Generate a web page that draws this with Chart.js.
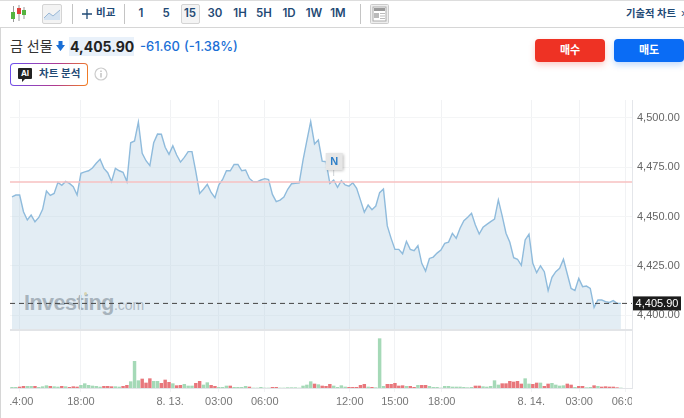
<!DOCTYPE html>
<html lang="ko">
<head>
<meta charset="utf-8">
<title>금 선물</title>
<script src="https://cdn.jsdelivr.net/npm/chart.js@4"></script>
<style>
    html, body { margin: 0; padding: 0; background: #fff; }
    body { width: 684px; height: 418px; position: relative; overflow: hidden; font-family: Inter, "Noto Sans CJK KR", sans-serif; color: #333; }
    .abs { position: absolute; white-space: nowrap; }
    .topline { left: 0; top: 0; width: 684px; height: 1px; background: #ddd; }
    .toolline { left: 0; top: 27px; width: 684px; height: 1px; background: #d6d6d6; }
    .leftline { left: 0; top: 28px; width: 1px; height: 390px; background: #d6d6d6; }
    .sep { top: 4px; width: 1px; height: 20px; background: #c4c4c4; }
    .tf { top: 6px; font-size: 11.5px; font-weight: 600; color: #1f4a75; transform: translateX(-50%); line-height: 15px; }
    .tfbox { left: 181px; top: 4px; width: 17px; height: 18px; background: #f4f4f4; border: 1px solid #d4d4d4; border-radius: 2px; }
    .btn { top: 39px; width: 70px; height: 23px; border-radius: 4px; color: #fff; font-size: 11px; font-weight: 700; text-align: center; line-height: 23px; }
    .ai { left: 10px; top: 63px; width: 78px; height: 23px; border-radius: 4px; padding: 1px; box-sizing: border-box; background: linear-gradient(100deg, #6a4ff0, #b03a90 60%, #f5801e); }
    .ai div { background: #fff; height: 100%; border-radius: 3px; }
    .mark { left: 24px; top: 288px; font-family: "Liberation Sans", sans-serif; font-size: 21.5px; font-weight: 700; color: #9b9ea2; letter-spacing: -0.5px; line-height: 30px; }
    .mark span { font-size: 14px; font-weight: 400; letter-spacing: 0; color: #a6a9ad; }
    canvas { position: absolute; left: 10px; top: 100px; }
</style>
</head>
<body>
<div class="abs topline"></div>
<div class="abs toolline"></div>
<div class="abs leftline"></div>

<svg class="abs" style="left:10px;top:5px" width="17" height="18">
    <path d="M3.5 1v16M9 0v16M14 2v12" stroke="#999" stroke-width="1"/>
    <rect x="1" y="7" width="4" height="7" fill="#55b33f"/><rect x="7" y="3" width="4" height="6" fill="#e0403a"/><rect x="12" y="5" width="4" height="5" fill="#55b33f"/>
</svg>
<div class="abs" style="left:42px;top:4px;width:18px;height:18px;background:#f3f3f3;border:1px solid #d4d4d4;border-radius:2px"></div>
<svg class="abs" style="left:43px;top:5px" width="18" height="18">
    <path d="M1 13L6 8l4 3 7-6v10H1z" fill="#d5e3f1"/><path d="M1 13L6 8l4 3 7-6" fill="none" stroke="#9ab8d6" stroke-width="1"/>
</svg>
<div class="abs sep" style="left:72px"></div>
<svg class="abs" style="left:81px;top:8px" width="12" height="12"><path d="M6 1v10M1 6h10" stroke="#1f4a75" stroke-width="1.3"/></svg>
<div class="abs" style="left:96px;top:5px;font-size:10.5px;font-weight:600;color:#1f4a75;line-height:16px">비교</div>
<div class="abs sep" style="left:124px"></div>
<div class="abs tfbox"></div>
<div class="abs tf" style="left:141px">1</div>
<div class="abs tf" style="left:166px">5</div>
<div class="abs tf" style="left:190px">15</div>
<div class="abs tf" style="left:215px">30</div>
<div class="abs tf" style="left:240px">1H</div>
<div class="abs tf" style="left:264px">5H</div>
<div class="abs tf" style="left:289px">1D</div>
<div class="abs tf" style="left:314px">1W</div>
<div class="abs tf" style="left:338px">1M</div>
<div class="abs sep" style="left:360px"></div>
<svg class="abs" style="left:370px;top:4px" width="19" height="20">
    <rect x="0.5" y="0.5" width="18" height="19" rx="1" fill="#eee" stroke="#ccc"/>
    <rect x="3" y="3" width="13" height="14" fill="#fff" stroke="#aaa"/><rect x="4" y="4" width="11" height="3" fill="#999"/><rect x="4" y="9" width="5" height="5" fill="#bbb"/><path d="M10 9.5h5M10 12h5M10 14.5h5" stroke="#bbb"/>
</svg>
<div class="abs" style="left:626px;top:5px;font-size:10.3px;font-weight:600;color:#1f4a75;line-height:16px">기술적 차트</div>
<div class="abs" style="left:681px;top:5px;font-size:11px;color:#1f4a75;line-height:16px">›</div>

<div class="abs" style="left:10px;top:36px;font-size:14px;color:#333;line-height:20px">금 선물</div>
<svg class="abs" style="left:56px;top:41px" width="9" height="10"><path d="M2.5 0h4v4H9L4.5 10 0 4h2.5z" fill="#1a6fd6"/></svg>
<div class="abs" style="left:69px;top:37px;width:65px;height:19px;background:#e9f1fa"></div>
<div class="abs" style="left:70px;top:37px;font-size:14px;font-weight:700;color:#222;line-height:19px">4,405.90</div>
<div class="abs" style="left:140px;top:37px;font-size:13px;font-weight:500;color:#1a6fd6;line-height:19px">-61.60</div>
<div class="abs" style="left:184px;top:37px;font-size:13px;font-weight:500;color:#1a6fd6;line-height:19px">(-1.38%)</div>

<div class="abs ai"><div></div></div>
<svg class="abs" style="left:18px;top:68px" width="14" height="14"><path d="M1 0h12a1 1 0 0 1 1 1v9a1 1 0 0 1-1 1H7l-3 3v-3H1a1 1 0 0 1-1-1V1a1 1 0 0 1 1-1z" fill="#222"/></svg>
<div class="abs" style="left:18px;top:68px;width:14px;height:11px;color:#fff;font-size:8px;font-weight:700;text-align:center;line-height:11px">AI</div>
<div class="abs" style="left:39px;top:66px;font-size:10.5px;font-weight:600;color:#1f4a75;line-height:16px">차트 분석</div>
<svg class="abs" style="left:94px;top:67px" width="14" height="14"><circle cx="7" cy="7" r="6" fill="none" stroke="#ccc" stroke-width="1.2"/><path d="M7 6v4.5M7 3.5v1.5" stroke="#bbb" stroke-width="1.3"/></svg>

<div class="abs btn" style="left:535px;background:#ee3224;box-shadow:0 3px 6px rgba(238,50,36,.25)">매수</div>
<div class="abs btn" style="left:614px;background:#0a6cf5;box-shadow:0 3px 6px rgba(10,108,245,.25)">매도</div>

<div class="abs mark">Investing<span>.com</span></div>
<div class="abs" style="left:84px;top:292px;width:3px;height:3px;border-radius:50%;background:#f0d890"></div>
<canvas id="goldChart" width="674" height="318"></canvas>

<script>
const priceValues = [
    4460.0, 4460.9, 4460.9, 4452.4, 4448.2, 4450.7, 4447.3, 4449.5, 4453.6, 4462.9,
    4460.7, 4461.7, 4467.3, 4465.8, 4467.8, 4466.8, 4465.1, 4460.9, 4471.9, 4472.6,
    4473.2, 4474.6, 4477.0, 4479.0, 4474.4, 4472.2, 4467.7, 4474.4, 4473.2, 4472.4,
    4467.7, 4487.4, 4488.3, 4497.9, 4482.0, 4478.3, 4475.8, 4487.4, 4491.8, 4491.7,
    4485.1, 4481.5, 4485.9, 4481.2, 4477.6, 4480.0, 4482.9, 4482.9, 4472.7, 4461.7,
    4463.8, 4466.3, 4462.2, 4459.5, 4466.0, 4468.8, 4473.2, 4473.2, 4476.4, 4476.4,
    4473.2, 4473.6, 4469.3, 4467.6, 4467.6, 4468.5, 4469.2, 4468.7, 4461.2, 4457.5,
    4458.3, 4459.9, 4463.8, 4466.6, 4466.8, 4467.0, 4478.6, 4488.5, 4498.1, 4486.8,
    4488.8, 4478.1, 4477.8, 4466.8, 4468.5, 4464.8, 4468.2, 4466.0, 4465.4, 4467.1,
    4464.3, 4458.3, 4452.2, 4455.8, 4453.4, 4455.3, 4462.1, 4463.9, 4445.2, 4438.9,
    4433.3, 4433.3, 4431.1, 4437.4, 4433.3, 4432.6, 4435.2, 4426.2, 4422.3, 4428.7,
    4429.4, 4431.4, 4433.0, 4436.4, 4437.0, 4441.4, 4438.9, 4444.0, 4447.9, 4449.6,
    4451.6, 4445.7, 4441.1, 4444.5, 4446.0, 4447.4, 4448.7, 4458.4, 4450.3, 4441.5,
    4436.9, 4429.1, 4428.3, 4425.2, 4438.1, 4441.0, 4426.2, 4421.5, 4425.0, 4422.0,
    4412.4, 4419.1, 4422.0, 4423.7, 4428.3, 4420.8, 4413.5, 4412.4, 4418.6, 4414.4,
    4414.7, 4413.5, 4403.9, 4407.6, 4407.6, 4406.8, 4406.4, 4407.3, 4405.9, 4405.9
];
const volumeValues = [
    2, 2, 3, 5, 5, 5, 5, 2, 4, 7, 5, 4, 3, 5, 4, 2, 4, 3, 8, 13,
    8, 6, 5, 3, 5, 5, 4, 4, 3, 5, 8, 19, 80, 22, 27, 15, 28, 20, 20, 14,
    24, 17, 13, 7, 8, 11, 6, 6, 14, 20, 9, 16, 8, 5, 2, 2, 6, 6, 2, 2,
    2, 5, 3, 0, 0, 2, 0, 0, 2, 2, 0, 0, 1, 1, 1, 0, 6, 9, 19, 12,
    10, 6, 5, 11, 6, 2, 7, 3, 2, 2, 2, 8, 11, 3, 2, 1, 148, 5, 11, 11,
    14, 6, 7, 5, 5, 2, 8, 8, 8, 5, 2, 2, 0, 5, 5, 3, 3, 3, 2, 1,
    2, 6, 6, 4, 3, 5, 22, 9, 13, 13, 20, 18, 20, 12, 28, 12, 11, 15, 15, 5,
    12, 14, 9, 6, 7, 12, 9, 2, 5, 5, 1, 2, 7, 5, 3, 4, 3, 3, 1, 0
];
// u = up bar, d = down bar, one per volume value
const volumeSides = [
    'uudduuduuu', 'duududdduu', 'uuuuddduud', 'duuuddduud',
    'ddudduuudd', 'uudduuuduu', 'uuduuuuudd', 'uuuuuuuuud',
    'uddduuuudd', 'ddduduuudd', 'dddudduddu', 'uuuuuuuuuu',
    'udduuuuudd', 'dddduuddud', 'duuuuddudd', 'uududddddu'
].join('');
const priceTicks = [4400, 4425, 4450, 4475, 4500];
const timeTicks = [2, 18, 41.3, 54, 66, 88.2, 100, 112.2, 135.6, 148.1, 160.2];
const timeLabels = ['14:00', '18:00', '8. 13.', '03:00', '06:00', '12:00', '15:00', '18:00', '8. 14.', '03:00', '06:00'];
const lastPrice = 4405.9;
const prevClose = 4467.5;
const newsIndex = 84;

const tickFont = { family: '"Liberation Sans", sans-serif', size: 11 };

// the plot has to fill the canvas, labels may run off its edge
function noPadding(s) {
    s.paddingLeft = s.paddingRight = s.paddingTop = s.paddingBottom = 0;
}

const overlays = {
    id: 'overlays',
    afterDatasetsDraw(chart) {
        const ctx = chart.ctx;
        const area = chart.chartArea;
        const y = chart.scales.y;
        const yVol = chart.scales.yVol;
        const x = chart.scales.x;

        // pane divider and volume baseline
        ctx.save();
        ctx.fillStyle = '#e2e4e7';
        ctx.fillRect(0, yVol.top - 1, area.right, 2);
        ctx.fillRect(0, yVol.bottom, area.right, 1);

        ctx.strokeStyle = '#f7c0c0';
        ctx.lineWidth = 1.5;
        ctx.beginPath();
        ctx.moveTo(0, y.getPixelForValue(prevClose));
        ctx.lineTo(area.right, y.getPixelForValue(prevClose));
        ctx.stroke();

        ctx.strokeStyle = '#444';
        ctx.lineWidth = 1;
        ctx.setLineDash([5, 4]);
        ctx.beginPath();
        ctx.moveTo(0, y.getPixelForValue(lastPrice));
        ctx.lineTo(area.right, y.getPixelForValue(lastPrice));
        ctx.stroke();
        ctx.setLineDash([]);

        // news flag
        const nx = x.getPixelForValue(newsIndex);
        const ny = y.getPixelForValue(priceValues[newsIndex]);
        ctx.strokeStyle = '#cfd3d6';
        ctx.beginPath();
        ctx.moveTo(nx, ny - 22);
        ctx.lineTo(nx, ny - 4);
        ctx.stroke();
        ctx.shadowColor = 'rgba(0,0,0,.3)';
        ctx.shadowBlur = 3;
        ctx.shadowOffsetX = 1;
        ctx.shadowOffsetY = 1;
        ctx.fillStyle = '#e6e6e6';
        ctx.fillRect(nx - 8, ny - 27, 17, 17);
        ctx.shadowColor = 'transparent';
        ctx.fillStyle = '#2f7fc8';
        ctx.font = 'bold 11px "Liberation Sans", sans-serif';
        ctx.textAlign = 'center';
        ctx.textBaseline = 'middle';
        ctx.fillText('N', nx + 0.5, ny - 18);

        // last price tag on the axis
        const tagY = y.getPixelForValue(lastPrice);
        ctx.fillStyle = '#1c1c1c';
        ctx.fillRect(area.right + 1, tagY - 7, 48, 14);
        ctx.fillStyle = '#fff';
        ctx.font = '11px "Liberation Sans", sans-serif';
        ctx.fillText(lastPrice.toLocaleString('en-US', { minimumFractionDigits: 2 }), area.right + 25, tagY + 0.5);

        // last time label runs off the plot, as on the site
        ctx.clearRect(area.right, yVol.bottom + 1, chart.width - area.right, chart.height - yVol.bottom);
        ctx.restore();
    }
};

new Chart(document.getElementById('goldChart').getContext('2d'), {
    type: 'bar',
    data: {
        datasets: [
            {
                type: 'line',
                data: priceValues.map((v, i) => ({ x: i, y: v })),
                yAxisID: 'y',
                borderColor: '#8fbbdc',
                borderWidth: 1.4,
                backgroundColor: 'rgba(186,209,228,0.4)',
                fill: 'start',
                tension: 0,
                pointRadius: 0
            },
            {
                type: 'bar',
                data: volumeValues.map((v, i) => ({ x: i, y: v })),
                yAxisID: 'yVol',
                backgroundColor: volumeSides.split('').map(s => s === 'u' ? '#a5d9b7' : '#e8777c'),
                barThickness: 2.8
            }
        ]
    },
    options: {
        responsive: false,
        animation: false,
        layout: { padding: 0 },
        plugins: { legend: { display: false }, tooltip: { enabled: false } },
        scales: {
            x: {
                type: 'linear',
                offset: false,
                min: -0.52,
                max: 161.9,
                afterBuildTicks: s => { s.ticks = timeTicks.map(value => ({ value })); },
                afterFit: s => { s.height = 30; noPadding(s); },
                grid: { color: '#f1f2f4', offset: false, tickLength: 4 },
                border: { display: false },
                ticks: {
                    color: '#777',
                    font: tickFont,
                    autoSkip: false,
                    maxRotation: 0,
                    padding: 3,
                    callback: (v, i) => timeLabels[i]
                }
            },
            y: {
                position: 'right',
                stack: 'panes',
                stackWeight: 230,
                min: 4392.4,
                max: 4509.1,
                afterBuildTicks: s => { s.ticks = priceTicks.map(value => ({ value })); },
                afterFit: s => { s.width = 52; noPadding(s); },
                grid: { color: '#f4f5f6', drawTicks: false },
                border: { color: '#e4e6ea' },
                ticks: {
                    color: '#666',
                    font: tickFont,
                    padding: 5,
                    callback: v => v.toLocaleString('en-US', { minimumFractionDigits: 2 })
                }
            },
            yVol: {
                position: 'right',
                stack: 'panes',
                stackWeight: 58,
                min: 0,
                max: 174,
                afterFit: s => { s.width = 52; noPadding(s); },
                grid: { display: false },
                border: { color: '#e4e6ea' },
                ticks: { display: false }
            }
        }
    },
    plugins: [overlays]
});
</script>
</body>
</html>
